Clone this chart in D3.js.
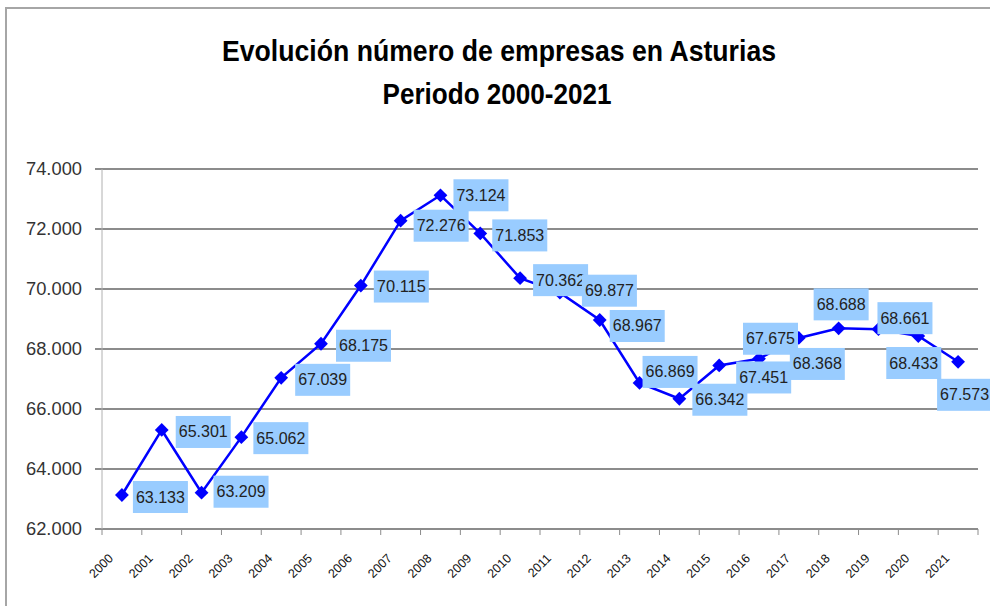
<!DOCTYPE html>
<html>
<head>
<meta charset="utf-8">
<script src="https://cdn.jsdelivr.net/npm/d3@7"></script>
<style>
  body { margin: 0; background: #fff; }
  svg { display: block; font-family: "Liberation Sans", Arial, sans-serif; }
</style>
</head>
<body>
<div id="chart"></div>
<script>
// datos: número de empresas en Asturias
const years = ['2000','2001','2002','2003','2004','2005','2006','2007','2008','2009','2010',
  '2011','2012','2013','2014','2015','2016','2017','2018','2019','2020','2021'];
const empresas = [63133, 65301, 63209, 65062, 67039, 68175, 70115, 72276, 73124, 71853, 70362,
  69877, 68967, 66869, 66342, 67451, 67675, 68368, 68688, 68661, 68433, 67573];
const yTicks = [62000, 64000, 66000, 68000, 70000, 72000, 74000];

// desplazamiento de cada etiqueta respecto a su punto (borde izq., centro vertical)
const labelNudge = [[11,2],[14,2],[12,-1],[12,1],[14,2],[15,2],[13,1],[13,5],[13,0],[12,2],[13,2],
  [22,-2],[10,6],[3,-11],[13,1],[17,12],[-16,-20],[-9,26],[-25,-24],[-1,-11],[-32,27],[-21,33]];

const W = 990, H = 606;
const plotL = 102, plotR = 978, plotT = 169, plotB = 529;

const es = d3.formatLocale({ decimal: ',', thousands: '.', grouping: [3], currency: ['', ''] });
const fmt = es.format(',.0f');

const svg = d3.select('#chart').append('svg')
  .attr('width', W)
  .attr('height', H);

// marco exterior
svg.append('rect')
  .attr('x', 6).attr('y', 8)
  .attr('width', 1000).attr('height', 620)
  .attr('fill', 'none')
  .attr('stroke', '#a6a6a6')
  .attr('stroke-width', 2);

// titulo
svg.append('text')
  .attr('x', 499).attr('y', 61)
  .attr('text-anchor', 'middle')
  .attr('font-size', 29).attr('font-weight', 'bold')
  .attr('textLength', 554).attr('lengthAdjust', 'spacingAndGlyphs')
  .text('Evolución número de empresas en Asturias');
svg.append('text')
  .attr('x', 497).attr('y', 104)
  .attr('text-anchor', 'middle')
  .attr('font-size', 29).attr('font-weight', 'bold')
  .attr('textLength', 229).attr('lengthAdjust', 'spacingAndGlyphs')
  .text('Periodo 2000-2021');

const x = d3.scaleBand().domain(years).range([plotL, plotR]).padding(0);
const y = d3.scaleLinear().domain([62000, 74000]).range([plotB, plotT]);
const cx = d => x(d) + x.bandwidth() / 2;

// rejilla
svg.append('g')
  .selectAll('line')
  .data(yTicks)
  .join('line')
  .attr('x1', plotL - 7).attr('x2', plotR)
  .attr('y1', d => y(d)).attr('y2', d => y(d))
  .attr('stroke', '#8c8c8c')
  .attr('stroke-width', 2);

// eje Y
svg.append('line')
  .attr('x1', plotL).attr('x2', plotL)
  .attr('y1', plotT).attr('y2', plotB)
  .attr('stroke', '#b0b0b0').attr('stroke-width', 1);

svg.append('g')
  .selectAll('text')
  .data(yTicks)
  .join('text')
  .attr('x', 82)
  .attr('y', d => y(d) + 6)
  .attr('text-anchor', 'end')
  .attr('font-size', 18)
  .attr('fill', '#333')
  .attr('textLength', 56).attr('lengthAdjust', 'spacingAndGlyphs')
  .text(d => fmt(d));

// eje X: marcas entre categorias
svg.append('g')
  .selectAll('line')
  .data(years.concat(['end']))
  .join('line')
  .attr('x1', (d, i) => plotL + i * x.bandwidth())
  .attr('x2', (d, i) => plotL + i * x.bandwidth())
  .attr('y1', plotB).attr('y2', plotB + 6)
  .attr('stroke', '#8c8c8c').attr('stroke-width', 1);

svg.append('g')
  .selectAll('text')
  .data(years)
  .join('text')
  .attr('transform', d => `translate(${cx(d) - 8},${plotB + 30}) rotate(-45)`)
  .attr('text-anchor', 'end')
  .attr('font-size', 12.5)
  .attr('fill', '#111')
  .text(d => d);

// linea
const pts = years.map((yr, i) => ({ year: yr, value: empresas[i], nudge: labelNudge[i] }));

svg.append('path')
  .datum(pts)
  .attr('fill', 'none')
  .attr('stroke', '#0000ff')
  .attr('stroke-width', 2.5)
  .attr('d', d3.line().x(d => cx(d.year)).y(d => y(d.value)));

svg.append('g')
  .selectAll('path')
  .data(pts)
  .join('path')
  .attr('transform', d => `translate(${cx(d.year)},${y(d.value)}) rotate(45)`)
  .attr('d', d3.symbol(d3.symbolSquare, 95))
  .attr('fill', '#0000ff');

// etiquetas de datos
const lab = svg.append('g')
  .selectAll('g')
  .data(pts)
  .join('g')
  .attr('transform', d => `translate(${cx(d.year) + d.nudge[0]},${y(d.value) + d.nudge[1]})`);

lab.append('rect')
  .attr('x', 0).attr('y', -16)
  .attr('width', 55).attr('height', 32)
  .attr('fill', '#99ccff');

lab.append('text')
  .attr('x', 27.5).attr('y', 5.5)
  .attr('text-anchor', 'middle')
  .attr('font-size', 16)
  .attr('fill', '#222')
  .attr('textLength', 49).attr('lengthAdjust', 'spacingAndGlyphs')
  .text(d => fmt(d.value));
</script>
</body>
</html>
